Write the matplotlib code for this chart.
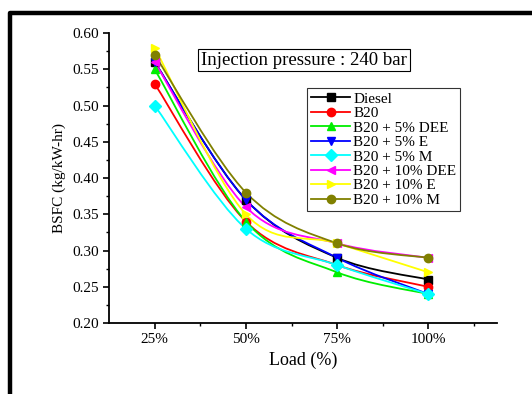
import numpy as np
import matplotlib.pyplot as plt
from matplotlib.path import Path
from matplotlib.patches import PathPatch
from matplotlib.lines import Line2D

plt.rcParams['font.family'] = ['Liberation Serif', 'DejaVu Serif']

# ---------------------------------
# Data
# ---------------------------------
loads = ['25%', '50%', '75%', '100%']

diesel = [0.56, 0.37, 0.29, 0.26]
b20 = [0.53, 0.34, 0.28, 0.25]
b20_5dee = [0.55, 0.34, 0.27, 0.24]
b20_5e = [0.56, 0.37, 0.29, 0.24]
b20_5m = [0.50, 0.33, 0.28, 0.24]
b20_10dee = [0.56, 0.36, 0.31, 0.29]
b20_10e = [0.58, 0.35, 0.31, 0.27]
b20_10m = [0.57, 0.38, 0.31, 0.29]

names = ['Diesel', 'B20', 'B20 + 5% DEE', 'B20 + 5% E', 'B20 + 5% M',
         'B20 + 10% DEE', 'B20 + 10% E', 'B20 + 10% M']
series = [diesel, b20, b20_5dee, b20_5e, b20_5m, b20_10dee, b20_10e, b20_10m]
colors = ['black', 'red', '#00ee00', 'blue', 'cyan', 'magenta', 'yellow', '#808000']
markers = ['s', 'o', '^', 'v', 'D', '<', '>', 'o']


def smooth_path(xs, ys):
    # Catmull-Rom style bezier through the data points
    pts = np.column_stack([xs, ys])
    verts = [pts[0]]
    codes = [Path.MOVETO]
    n = len(pts)
    for i in range(n - 1):
        p0 = pts[i - 1] if i > 0 else pts[i]
        p1 = pts[i]
        p2 = pts[i + 1]
        p3 = pts[i + 2] if i + 2 < n else pts[i + 1]
        c1 = p1 + (p2 - p0) / 6.0
        c2 = p2 - (p3 - p1) / 6.0
        verts += [c1, c2, p2]
        codes += [Path.CURVE4] * 3
    return Path(verts, codes)


fig = plt.figure(figsize=(5.32, 3.94), dpi=100)
ax = fig.add_axes([0.205, 0.18, 0.729, 0.736])

x = np.arange(1, len(loads) + 1)
handles = []
for vals, name, c, m in zip(series, names, colors, markers):
    ax.add_patch(PathPatch(smooth_path(x, vals), facecolor='none',
                           edgecolor=c, lw=1.3, zorder=2))
    ax.plot(x, vals, ls='none', marker=m, color=c, ms=6, zorder=3)
    handles.append(Line2D([], [], color=c, marker=m, ms=6, lw=1.3, label=name))

ax.set_xlim(0.5, 4.75)
ax.set_ylim(0.2, 0.6)
ax.set_xticks(x)
ax.set_xticklabels(loads)
ax.set_xticks([1.5, 2.5, 3.5, 4.5], minor=True)
ax.set_yticks(np.arange(0.20, 0.601, 0.05))
ax.set_yticks(np.arange(0.225, 0.6, 0.05), minor=True)
ax.yaxis.set_major_formatter(plt.FormatStrFormatter('%.2f'))
ax.tick_params(labelsize=11, width=1.2, length=4)
ax.tick_params(which='minor', width=1.0, length=2.5)

for s in ['top', 'right']:
    ax.spines[s].set_visible(False)
for s in ['left', 'bottom']:
    ax.spines[s].set_linewidth(1.3)

ax.set_xlabel('Load (%)', fontsize=13)
ax.set_ylabel('BSFC (kg/kW-hr)', fontsize=11)

ax.text(0.503, 0.907, 'Injection pressure : 240 bar', transform=ax.transAxes,
        ha='center', va='center', fontsize=13.5,
        bbox=dict(boxstyle='square,pad=0.15', fc='white', ec='black', lw=0.8))

leg = ax.legend(handles=handles, loc='upper left', bbox_to_anchor=(0.51, 0.81),
                fontsize=11, frameon=True, fancybox=False, edgecolor='black',
                handlelength=2.6, handletextpad=0.2, labelspacing=0.05,
                borderpad=0.25, borderaxespad=0)
leg.get_frame().set_linewidth(0.8)

# black border of the figure panel
fig.add_artist(Line2D([0.019, 0.019, 1.0], [0.0, 0.968, 0.968],
                      transform=fig.transFigure, color='black', lw=3.2))

fig.savefig('out.png', dpi=100)
